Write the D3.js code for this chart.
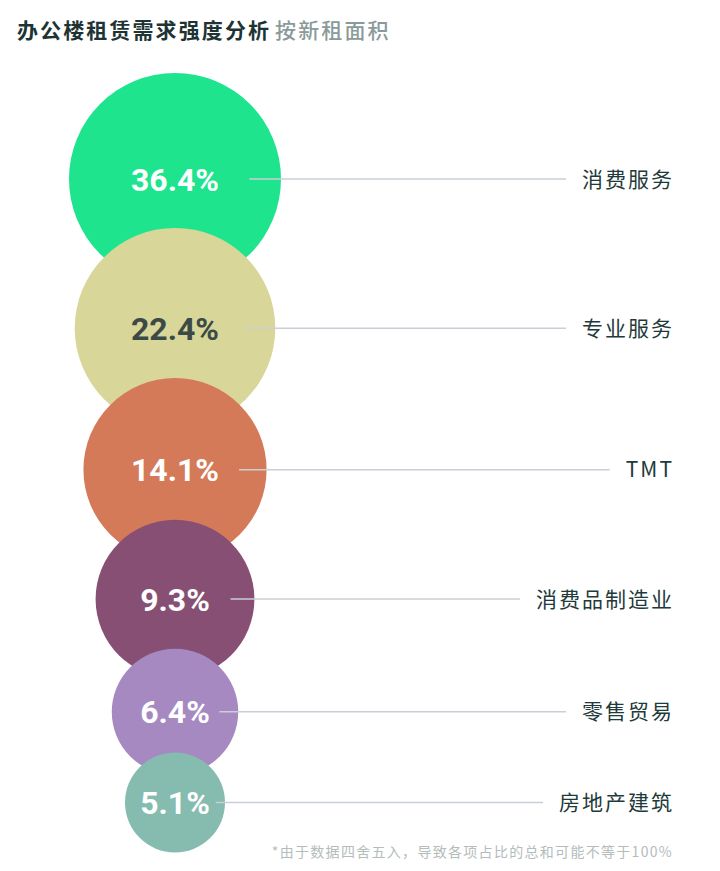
<!DOCTYPE html>
<html>
<head>
<meta charset="utf-8">
<script src="https://cdn.jsdelivr.net/npm/d3@7"></script>
<style>
  body { margin: 0; background: #ffffff; }
</style>
</head>
<body>
<svg id="chart"></svg>
<script>
const width = 720, height = 871
const cx = 175, firstY = 179, labelRight = 672

const categories = ["消费服务", "专业服务", "TMT", "消费品制造业", "零售贸易", "房地产建筑"]
const shares = [36.4, 22.4, 14.1, 9.3, 6.4, 5.1]
const colors = ["#1ee48e", "#d8d698", "#d57a59", "#884f74", "#a589c0", "#85bcaf"]
const valueColors = ["#ffffff", "#3c4a47", "#ffffff", "#ffffff", "#ffffff", "#ffffff"]

const svg = d3.select("svg#chart")
    .attr("viewBox", [0, 0, width, height])
    .attr("width", width)
    .attr("height", height)
    .style("background", "#ffffff")

// bubble size saturates for the big shares
const radius = d3.scalePow()
    .exponent(-1)
    .domain([d3.min(shares), d3.max(shares)])
    .range([50, 106])

const data = shares.map((v, i) => ({name: categories[i], value: v, color: colors[i], text: valueColors[i], r: radius(v)}))

// stack them, each one overlapping the one above
let y = firstY
data.forEach((d, i) => {
    if (i > 0) y += 1.37 * data[i - 1].r + 4
    d.y = y
})

// title
const title = svg.append("text")
    .attr("x", 17)
    .attr("y", 38)
    .style("font-family", "'Noto Sans CJK SC', sans-serif")
    .style("font-size", "21px")
    .style("letter-spacing", "2.1px")
title.append("tspan")
    .attr("fill", "#1e3434")
    .style("font-weight", 700)
    .text("办公楼租赁需求强度分析")
title.append("tspan")
    .attr("fill", "#8a9a9a")
    .attr("dx", 4)
    .style("font-weight", 500)
    .text("按新租面积")

svg.append("g")
    .selectAll("circle")
    .data(data)
    .enter()
    .append("circle")
    .attr("cx", cx)
    .attr("cy", d => d.y)
    .attr("r", d => d.r)
    .attr("fill", d => d.color)

const labels = svg.append("g")
    .selectAll("text")
    .data(data)
    .enter()
    .append("text")
    .attr("x", labelRight + 2)
    .attr("y", d => d.y)
    .attr("dy", "0.36em")
    .attr("text-anchor", "end")
    .attr("fill", "#1e3a3a")
    .style("font-family", "'Noto Sans CJK SC', sans-serif")
    .style("font-size", "21px")
    .style("letter-spacing", "2px")
    .text(d => d.name)

const values = svg.append("g")
    .selectAll("text")
    .data(data)
    .enter()
    .append("text")
    .attr("x", cx)
    .attr("y", d => d.y)
    .attr("dy", "0.36em")
    .attr("text-anchor", "middle")
    .attr("fill", d => d.text)
    .style("font-family", "Roboto, sans-serif")
    .style("font-weight", 700)
    .style("font-size", "32px")
    .text(d => d.value.toFixed(1) + "%")

// leader lines from bubble to label
const labelWidths = labels.nodes().map(n => n.getComputedTextLength())
const valueWidths = values.nodes().map(n => n.getComputedTextLength())

svg.append("g")
    .selectAll("line")
    .data(data)
    .enter()
    .append("line")
    .attr("x1", (d, i) => Math.max(cx + 0.7 * d.r, cx + valueWidths[i] / 2 + 6))
    .attr("x2", (d, i) => labelRight + 2 - labelWidths[i] - 16)
    .attr("y1", d => d.y)
    .attr("y2", d => d.y)
    .attr("stroke", "#c9cfd6")
    .attr("stroke-width", 1.5)

svg.append("text")
    .attr("x", labelRight + 1)
    .attr("y", 857)
    .attr("text-anchor", "end")
    .attr("fill", "#b4bcbc")
    .style("font-family", "'Noto Sans CJK SC', sans-serif")
    .style("font-size", "14px")
    .style("letter-spacing", "1.3px")
    .text("*由于数据四舍五入，导致各项占比的总和可能不等于100%")
</script>
</body>
</html>
